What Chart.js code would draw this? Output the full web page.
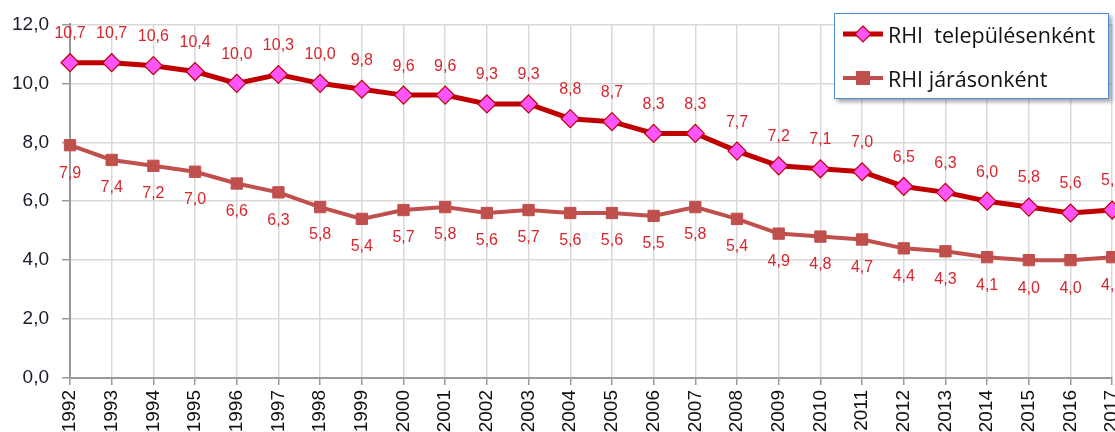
<!DOCTYPE html>
<html><head><meta charset="utf-8">
<script src="https://cdn.jsdelivr.net/npm/chart.js@4/dist/chart.umd.min.js"></script>
<style>
html,body{margin:0;padding:0;background:#fff;overflow:hidden;width:1115px;height:432px;}
#wrap{position:absolute;left:0;top:0;width:1140px;height:470px;}
#legend{position:absolute;left:834px;top:13px;width:273px;height:84px;border:1.5px solid #4a8fd6;background:#fff;box-shadow:3px 3px 4px rgba(0,0,0,0.35);font-family:"Open Sans","Liberation Sans",sans-serif;font-size:21.5px;color:#111;}
.row{position:absolute;left:6px;height:30px;display:flex;align-items:center;white-space:nowrap;}
.row svg{margin-right:3px}
</style></head>
<body>
<div id="wrap"><canvas id="c" width="1140" height="470"></canvas></div>
<div id="legend">
 <div class="row" style="top:5px"><svg width="44" height="20"><line x1="2" y1="10" x2="42" y2="10" stroke="#c00000" stroke-width="5"/><polygon points="22,2 30,10 22,18 14,10" fill="#ff55ff" stroke="#c00000" stroke-width="1.2"/></svg><span>RHI&nbsp; településenként</span></div>
 <div class="row" style="top:49px"><svg width="44" height="20"><line x1="2" y1="10" x2="42" y2="10" stroke="#c0504d" stroke-width="4"/><rect x="15" y="3" width="14" height="14" fill="#c0504d"/></svg><span>RHI járásonként</span></div>
</div>
<script>
const years = ['1992','1993','1994','1995','1996','1997','1998','1999','2000','2001','2002','2003','2004','2005','2006','2007','2008','2009','2010','2011','2012','2013','2014','2015','2016','2017'];
const telepules = [10.7,10.7,10.6,10.4,10.0,10.3,10.0,9.8,9.6,9.6,9.3,9.3,8.8,8.7,8.3,8.3,7.7,7.2,7.1,7.0,6.5,6.3,6.0,5.8,5.6,5.7];
const jaras = [7.9,7.4,7.2,7.0,6.6,6.3,5.8,5.4,5.7,5.8,5.6,5.7,5.6,5.6,5.5,5.8,5.4,4.9,4.8,4.7,4.4,4.3,4.1,4.0,4.0,4.1];
const seriesNames = ['RHI  településenként','RHI járásonként'];

const fmt = v => v.toFixed(1).replace('.', ',');

const labelPlugin = {
  id: 'valueLabels',
  afterDatasetsDraw(chart) {
    const ctx = chart.ctx;
    ctx.save();
    ctx.font = '16px "Liberation Sans Narrow", "Liberation Sans", sans-serif';
    ctx.fillStyle = '#d7262e';
    ctx.textAlign = 'center';
    ctx.textBaseline = 'middle';
    chart.data.datasets.forEach((ds, i) => {
      const meta = chart.getDatasetMeta(i);
      meta.data.forEach((pt, j) => {
        const off = i === 0 ? -29 : 28;
        ctx.fillText(fmt(ds.data[j]), pt.x, pt.y + off);
      });
    });
    ctx.restore();
  }
};

new Chart(document.getElementById('c'), {
  type: 'line',
  data: {
    labels: years,
    datasets: [
      {label: seriesNames[0], data: telepules, borderColor: '#c00000', borderWidth: 5, pointStyle: 'rectRot', pointRadius: 9, pointBackgroundColor: '#ff55ff', pointBorderColor: '#c00000', pointBorderWidth: 1.2, tension: 0},
      {label: seriesNames[1], data: jaras, borderColor: '#c0504d', borderWidth: 4, pointStyle: 'rect', pointRadius: 8, pointBackgroundColor: '#c0504d', pointBorderColor: '#c0504d', pointBorderWidth: 1, tension: 0}
    ]
  },
  options: {
    responsive: false,
    animation: false,
    layout: {padding: {top: 23, right: 27, left: 0, bottom: 0}},
    plugins: {legend: {display: false}, tooltip: {enabled: false}},
    scales: {
      x: {
        offset: false,
        grid: {color: '#d9d9d9', lineWidth: 1.5, drawTicks: true, tickLength: 7, tickColor: '#999'},
        border: {color: '#999', width: 2},
        ticks: {minRotation: 90, maxRotation: 90, color: '#111', font: {family: '"Liberation Sans", sans-serif', size: 19}, padding: 5, autoSkip: false},
        afterFit(s) { s.height = 470 - 378; }
      },
      y: {
        min: 0, max: 12,
        grid: {color: '#d9d9d9', lineWidth: 1.5, drawTicks: true, tickLength: 8, tickColor: '#999'},
        border: {color: '#999', width: 2},
        ticks: {stepSize: 2, color: '#1a1a2a', font: {family: '"Liberation Sans", sans-serif', size: 19}, padding: 13, callback: v => fmt(v)},
        afterFit(s) { s.width = 70; }
      }
    }
  },
  plugins: [labelPlugin]
});
</script>
</body></html>
